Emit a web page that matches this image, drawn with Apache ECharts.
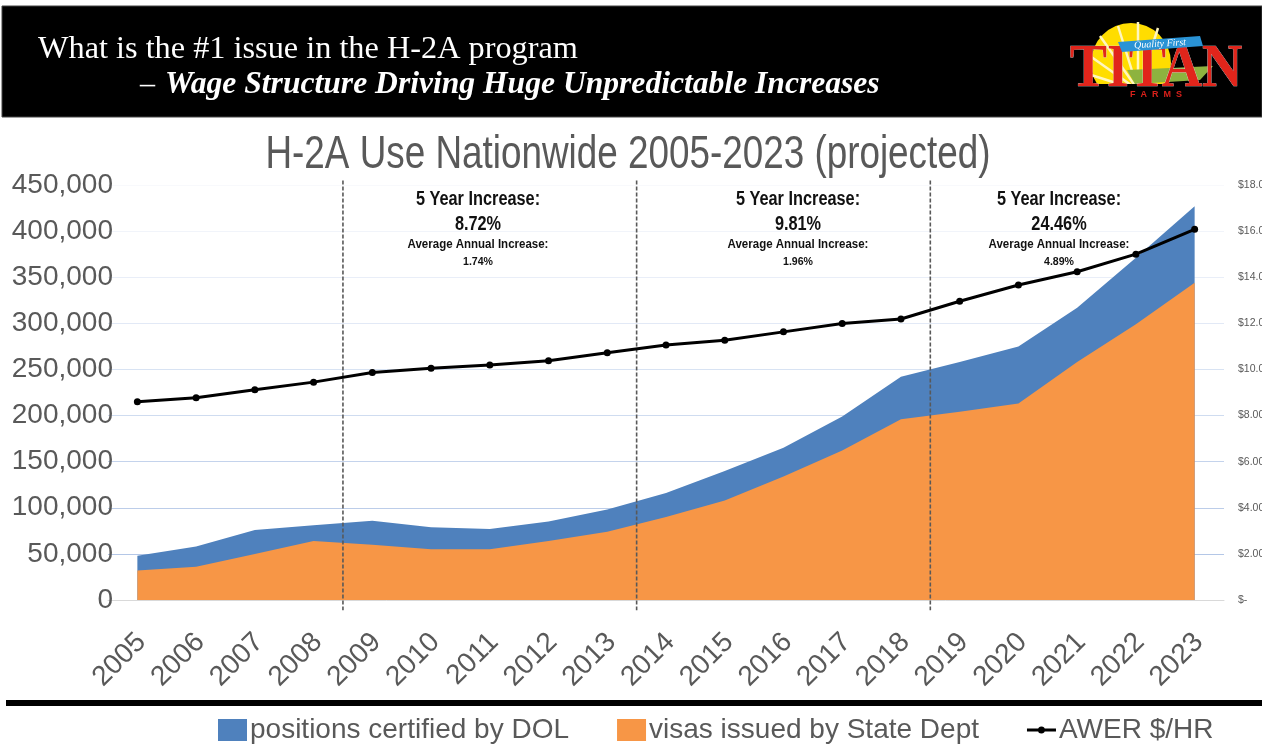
<!DOCTYPE html>
<html><head><meta charset="utf-8">
<style>html,body{margin:0;padding:0;background:#fff}#c{width:1262px;height:746px}</style>
<script src="https://cdn.jsdelivr.net/npm/echarts@6/dist/echarts.min.js"></script>
</head><body><div id="c"></div>
<script>
const years = ['2005','2006','2007','2008','2009','2010','2011','2012','2013','2014','2015','2016','2017','2018','2019','2020','2021','2022','2023'];
const positions = [48000,58000,76000,81000,86000,79000,77000,85000,98000,116000,140000,165000,199000,242000,258000,275000,317000,371000,427000];
const visas = [32000,36000,50000,64000,60000,55000,55000,64000,74000,90000,108000,134000,162000,196000,204000,213000,258000,299000,344000];
const awer = [8.6,8.77,9.12,9.45,9.87,10.05,10.19,10.38,10.72,11.06,11.27,11.63,11.99,12.19,12.96,13.66,14.24,15.0,16.08];
const dividers = [4,9,14];
const notes = [
  ['5 Year Increase:','8.72%','Average Annual Increase:','1.74%'],
  ['5 Year Increase:','9.81%','Average Annual Increase:','1.96%'],
  ['5 Year Increase:','24.46%','Average Annual Increase:','4.89%']
];
const noteCentres = [478,798,1059];
const sans = '"Liberation Sans",Arial,sans-serif';
const grey = '#595959';
const chart = echarts.init(document.getElementById('c'),null,{renderer:'canvas'});

const noteEls = [];
notes.forEach((n,i)=>{
  const x = noteCentres[i];
  [[n[0],199,20,'600',.815],[n[1],224,20,'600',.815],[n[2],245,12.5,'700',.92],[n[3],262,11.5,'700',.92]].forEach(t=>{
    noteEls.push({type:'text',z:20,x:x,y:t[1],scaleX:t[4],style:{x:0,y:0,text:t[0],fill:'#111',font:t[3]+' '+t[2]+'px '+sans,textAlign:'center',textVerticalAlign:'middle'}});
  });
});
const rays = [[1138,90,1100,36],[1138,90,1118,26],[1138,90,1138,22],[1138,90,1158,28],[1138,90,1090,56],[1138,90,1088,74]];
const logo = [
  {type:'circle',z:10,shape:{cx:1131,cy:63,r:40},style:{fill:'#ffdd00'}},
  ...rays.map(r=>({type:'line',z:11,shape:{x1:r[0],y1:r[1],x2:r[2],y2:r[3]},style:{stroke:'#fff6c0',lineWidth:2.5}})),
  {type:'rect',z:11,shape:{x:1085,y:84,width:100,height:25},style:{fill:'#000'}},
  {type:'polygon',z:12,shape:{points:[[1127,70],[1213,66],[1200,80],[1135,84]]},style:{fill:'#8db33f'}},
  {type:'polygon',z:16,shape:{points:[[1118,42],[1200,36],[1203,46],[1122,52]]},style:{fill:'#2a93d5'}},
  {type:'text',z:17,rotation:0.06,x:1160,y:44,style:{x:0,y:0,text:'Quality First',fill:'#fff',font:'italic 10px "Liberation Serif",serif',textAlign:'center',textVerticalAlign:'middle'}},
  {type:'text',z:15,x:1156,y:70,scaleX:.9,style:{x:0,y:0,text:'TITAN',fill:'#e1251b',stroke:'#ddd',lineWidth:.6,font:'900 62px "Liberation Serif",serif',textAlign:'center',textVerticalAlign:'middle'}},
  {type:'text',z:15,x:1156,y:95,style:{x:0,y:0,text:'F  A  R  M  S',fill:'#d8201a',font:'700 9px "Liberation Sans",sans-serif',textAlign:'center',textVerticalAlign:'middle'}}
];

chart.setOption({
  animation:false,
  backgroundColor:'#fff',
  legend:{left:213,top:711,width:1045,itemWidth:29,itemHeight:22,itemGap:48,
    data:[{name:'positions certified by DOL',icon:'rect'},{name:'visas issued by State Dept',icon:'rect'},
      {name:'AWER $/HR',icon:'path://M0 0h.01v.01h-.01zM29 22h-.01v-.01h.01zM0 9.5H29V12.5H0ZM14.5 7.5a3.5 3.5 0 1 1 -.01 0Z',itemStyle:{color:'#000'}}],
    textStyle:{color:grey,fontFamily:sans,fontSize:28,padding:[0,0,0,-2]}},
  grid:{left:108,right:38,top:185,bottom:146,outerBoundsMode:'none'},
  xAxis:[
    {type:'category',data:years,boundaryGap:true,
     axisLine:{lineStyle:{color:'#d9d9d9',width:1}},axisTick:{length:10,lineStyle:{color:'#d9d9d9'}},
     axisLabel:{rotate:45,color:grey,fontFamily:sans,fontSize:28,margin:42,interval:0,padding:[0,-6,0,0]}},
    {type:'value',min:0,max:19,show:false}
  ],
  yAxis:[
    {type:'value',min:0,max:450000,interval:50000,
     axisLine:{show:false},axisTick:{show:false},
     axisLabel:{color:grey,fontFamily:sans,fontSize:28,margin:-5,formatter:v=>v.toLocaleString('en-US')},
     splitLine:{lineStyle:{width:1,color:['#ffffff','#b4c7e7','#bccde9','#c4d3ec','#cfdcf0','#d8e3f3','#e2e9f6','#e9eef8','#f1f4fa','#f8f9fc']}}},
    {type:'value',min:0,max:18,interval:2,position:'right',
     axisLine:{show:false},axisTick:{show:false},splitLine:{show:false},
     axisLabel:{color:grey,fontFamily:sans,fontSize:10.5,margin:14,formatter:v=>v===0?'$-':'$'+v.toFixed(2)}}
  ],
  series:[
    {name:'positions certified by DOL',type:'line',data:positions,symbol:'none',lineStyle:{width:0},
     itemStyle:{color:'#4f81bd'},areaStyle:{color:'#4f81bd',opacity:1},z:2},
    {name:'visas issued by State Dept',type:'line',data:visas,symbol:'none',lineStyle:{width:0},
     itemStyle:{color:'#f79646'},areaStyle:{color:'#f79646',opacity:1},z:3},
    ...dividers.map((d,i)=>({name:'divider'+i,type:'line',xAxisIndex:1,yAxisIndex:0,clip:false,symbol:'none',z:4,
     data:[[d,455000],[d,-11000]],lineStyle:{color:'#595959',width:1.6,type:[4,2]},silent:true})),
    {name:'AWER $/HR',type:'line',yAxisIndex:1,data:awer,symbol:'circle',symbolSize:7,
     itemStyle:{color:'#000'},lineStyle:{color:'#000',width:3},z:6}
  ],
  graphic:[
    {type:'rect',z:-1,silent:true,shape:{x:2,y:6,width:1260,height:111},style:{fill:'#000',stroke:'#444',lineWidth:1}},
    {type:'rect',z:-1,silent:true,shape:{x:6,y:700,width:1256,height:6},style:{fill:'#000'}},
    {type:'text',z:10,x:38,y:50,style:{x:0,y:0,text:'What is the #1 issue in the H-2A program',fill:'#fff',font:'32.3px "Liberation Serif",serif',textVerticalAlign:'middle'}},
    {type:'text',z:10,x:140,y:85,style:{x:0,y:0,text:'–',fill:'#fff',font:'30px "Liberation Serif",serif',textVerticalAlign:'middle'}},
    {type:'text',z:10,x:165,y:85,style:{x:0,y:0,text:'Wage Structure Driving Huge Unpredictable Increases',fill:'#fff',font:'italic 700 31.6px "Liberation Serif",serif',textVerticalAlign:'middle'}},
    {type:'text',z:10,x:628,y:155,scaleX:.784,style:{x:0,y:0,text:'H-2A Use Nationwide 2005-2023 (projected)',fill:grey,font:'47px '+sans,textAlign:'center',textVerticalAlign:'middle'}},
    ...logo,
    ...noteEls
  ]
});
</script></body></html>
